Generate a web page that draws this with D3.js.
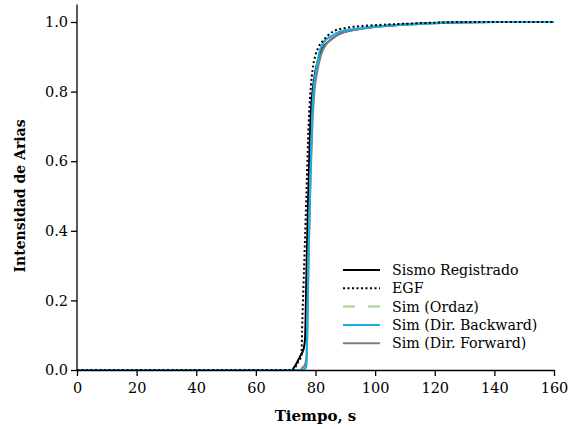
<!DOCTYPE html>
<html><head><meta charset="utf-8">
<script src="https://cdn.jsdelivr.net/npm/d3@7"></script>
<style>body{margin:0;background:#fff}svg{display:block}</style>
</head><body><svg id="c" width="569" height="429"></svg>
<script>
// Data
const xTicks = [0,20,40,60,80,100,120,140,160];
const yTicks = [0,0.2,0.4,0.6,0.8,1.0];
const seriesNames = ["Sismo Registrado","EGF","Sim (Ordaz)","Sim (Dir. Backward)","Sim (Dir. Forward)"];

const sismoT = [0,72,73,74,75,76,76.5,77,77.5,78,78.5,79,80,81,82,83,85,88,90,94,100,110,120,130,140,160];
const sismoV = [0,0,0.01,0.025,0.042,0.06,0.09,0.3,0.48,0.64,0.75,0.8,0.86,0.895,0.918,0.932,0.948,0.966,0.972,0.979,0.986,0.993,0.997,0.999,1,1];

const egfT = [0,73,73.5,74.5,75.3,75.5,76,76.5,77,77.5,78,78.5,79,80,81,82.7,84,86,90,95,100,110,120,130,160];
const egfV = [0,0,0.012,0.028,0.04,0.115,0.25,0.38,0.52,0.66,0.76,0.82,0.862,0.905,0.928,0.948,0.96,0.973,0.983,0.988,0.991,0.995,0.998,1,1];

const ordazT = [0,76,76.5,77,77.3,77.6,78,78.5,79,79.5,80.2,81.5,83,85,88,90,95,100,106,115,122,130,140,160];
const ordazV = [0,0,0.003,0.015,0.14,0.29,0.44,0.61,0.75,0.815,0.86,0.918,0.944,0.957,0.971,0.976,0.982,0.987,0.991,0.994,0.997,0.999,1,1];

const backT = [0,76,76.5,77,77.3,77.6,78,78.5,79,79.5,80.2,81.5,83,85,88,90,95,100,106,115,122,130,140,160];
const backV = [0,0,0.003,0.015,0.15,0.3,0.45,0.62,0.76,0.82,0.862,0.92,0.945,0.958,0.972,0.976,0.982,0.987,0.991,0.994,0.997,0.999,1,1];

const fwdT = [0,75,75.5,76.5,77,77.4,77.8,78.3,79,79.6,80.5,82,84,86,90,95,100,110,120,130,140,160];
const fwdV = [0,0,0.005,0.015,0.04,0.2,0.38,0.55,0.72,0.8,0.855,0.91,0.94,0.955,0.972,0.98,0.986,0.993,0.997,0.999,1,1];

const svg = d3.select("#c");
const L = 77, R = 554, T0 = 22, B = 370;
const x = d3.scaleLinear().domain([0,160]).range([L,R]);
const y = d3.scaleLinear().domain([0,1]).range([B,T0]);
const font = "'DejaVu Serif', serif";

const series = [
  {name:seriesNames[2], t:ordazT, v:ordazV, color:"#a9d18e", w:2, dash:"12,12"},
  {name:seriesNames[0], t:sismoT, v:sismoV, color:"#000000", w:2, dash:null},
  {name:seriesNames[4], t:fwdT, v:fwdV, color:"#808080", w:2.2, dash:null},
  {name:seriesNames[3], t:backT, v:backV, color:"#16aee6", w:2, dash:null},
  {name:seriesNames[1], t:egfT, v:egfV, color:"#000000", w:2, dash:"2,2.5"}
];

const line = d3.line().x(d=>x(d[0])).y(d=>y(d[1])).curve(d3.curveMonotoneX);
const g = svg.append("g");
series.forEach(s=>{
  g.append("path").datum(s.t.map((t,i)=>[t,s.v[i]]))
   .attr("d",line).attr("fill","none").attr("stroke",s.color)
   .attr("stroke-width",s.w).attr("stroke-dasharray",s.dash);
});

// axes
const xAxis = d3.axisBottom(x).tickValues(xTicks).tickSize(6).tickSizeOuter(0).tickFormat(d3.format("d"));
const yAxis = d3.axisLeft(y).tickValues(yTicks).tickSize(6).tickSizeOuter(0).tickFormat(d3.format(".1f"));
const gx = svg.append("g").attr("transform",`translate(0,${B})`).call(xAxis);
const gy = svg.append("g").attr("transform",`translate(${L},0)`).call(yAxis);
gy.select(".domain").attr("d",`M0,${B}V${y(1.05)}`);
[gx,gy].forEach(a=>{
  a.selectAll("path,line").attr("stroke","#000").attr("stroke-width",1.3);
  a.selectAll("text").attr("font-family",font).attr("font-size",14.5).attr("fill","#000");
});
gx.selectAll("text").attr("dy","0.95em").attr("y",9);
gy.selectAll("text").attr("x",-9);

svg.append("text").attr("x",(L+R)/2).attr("y",421).attr("text-anchor","middle")
  .attr("font-family",font).attr("font-weight","bold").attr("font-size",15).text("Tiempo, s");
svg.append("text").attr("transform",`translate(25,${(T0+B)/2}) rotate(-90)`).attr("text-anchor","middle")
  .attr("font-family",font).attr("font-weight","bold").attr("font-size",14).text("Intensidad de Arias");

// legend
const legOrder = [
  {name:seriesNames[0], color:"#000", dash:null},
  {name:seriesNames[1], color:"#000", dash:"2,2.5"},
  {name:seriesNames[2], color:"#a9d18e", dash:"12,13"},
  {name:seriesNames[3], color:"#16aee6", dash:null},
  {name:seriesNames[4], color:"#808080", dash:null}
];
const lg = svg.append("g");
legOrder.forEach((d,i)=>{
  const yy = 270 + i*18.3;
  lg.append("line").attr("x1",343).attr("x2",380).attr("y1",yy).attr("y2",yy)
    .attr("stroke",d.color).attr("stroke-width",2).attr("stroke-dasharray",d.dash);
  lg.append("text").attr("x",392).attr("y",yy).attr("dy","0.35em")
    .attr("font-family",font).attr("font-size",14.2).text(d.name);
});
</script></body></html>
